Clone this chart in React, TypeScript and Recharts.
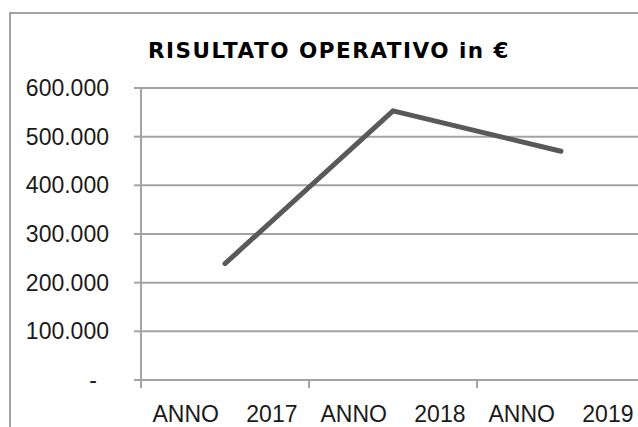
import React from 'react';
import { LineChart, Line, XAxis, YAxis, CartesianGrid } from 'recharts';

const anni = ['ANNO 2017', 'ANNO 2018', 'ANNO 2019'];
const risultato = [239000, 553000, 470000];
const yTicks = [0, 100000, 200000, 300000, 400000, 500000, 600000];
const confini = [0, 1, 2, 3];

const data = anni.map((anno, i) => ({ anno, valore: risultato[i] }));

const GRID = '#a3a3a3';
const FONT = '"Liberation Sans", Arial, sans-serif';

const formatEuro = (v: number) =>
    v === 0 ? '-' : String(v).replace(/\B(?=(\d{3})+(?!\d))/g, '.');

const YTick = ({ x, y, payload }: any) => (
    <text
        x={x}
        y={y}
        dx={payload.value === 0 ? -12 : 0}
        dy="0.355em"
        textAnchor="end"
        fontFamily={FONT}
        fontSize={23}
        fill="#1a1a1a"
    >
        {formatEuro(payload.value)}
    </text>
);

const XTick = ({ x, y, payload }: any) => (
    <text
        x={x}
        y={y + 41}
        textAnchor="middle"
        fontFamily={FONT}
        fontSize={23}
        fill="#1a1a1a"
        style={{ wordSpacing: '21px' }}
    >
        {payload.value}
    </text>
);

const NoLabel = () => <g />;

export default function App() {
    return (
        <div style={{ position: 'fixed', left: 0, top: 0, width: 638, height: 427, overflow: 'hidden', background: '#fff' }}>
            <div
                style={{
                    position: 'absolute',
                    left: 9,
                    top: 12,
                    width: 640,
                    height: 440,
                    border: `2px solid ${GRID}`,
                    boxSizing: 'border-box',
                    background: '#fff',
                }}
            >
                <div
                    style={{
                        position: 'absolute',
                        left: 0,
                        top: 26,
                        width: 636,
                        textAlign: 'center',
                        fontFamily: '"DejaVu Sans", sans-serif',
                        fontWeight: 'bold',
                        fontSize: 21.5,
                        lineHeight: '22px',
                        letterSpacing: 1.5,
                        color: '#000',
                    }}
                >
                    RISULTATO OPERATIVO in €
                </div>
                <LineChart width={636} height={436} data={data} margin={{ top: 74, right: 2, left: 0, bottom: 40 }}>
                    <CartesianGrid horizontal vertical={false} stroke={GRID} strokeWidth={2} />
                    {/* boundary tick marks between the years */}
                    <XAxis
                        dataKey="valore"
                        type="number"
                        domain={[0, confini.length - 1]}
                        allowDataOverflow
                        ticks={confini}
                        interval={0}
                        height={1}
                        tickSize={8}
                        tick={<NoLabel />}
                        axisLine={{ stroke: GRID, strokeWidth: 2 }}
                        tickLine={{ stroke: GRID, strokeWidth: 2 }}
                    />
                    <XAxis
                        xAxisId="cat"
                        dataKey="anno"
                        type="category"
                        height={29}
                        padding={{ left: 84, right: 84 }}
                        axisLine={false}
                        tickLine={false}
                        tickSize={0}
                        tickMargin={0}
                        interval={0}
                        tick={<XTick />}
                    />
                    <YAxis
                        width={130}
                        domain={[0, 600000]}
                        ticks={yTicks}
                        tickSize={7}
                        tickMargin={25}
                        tick={<YTick />}
                        axisLine={{ stroke: GRID, strokeWidth: 2 }}
                        tickLine={{ stroke: GRID, strokeWidth: 2 }}
                    />
                    <Line
                        xAxisId="cat"
                        type="linear"
                        dataKey="valore"
                        stroke="#595959"
                        strokeWidth={5}
                        strokeLinecap="round"
                        strokeLinejoin="round"
                        dot={false}
                        activeDot={false}
                        isAnimationActive={false}
                    />
                </LineChart>
            </div>
        </div>
    );
}
